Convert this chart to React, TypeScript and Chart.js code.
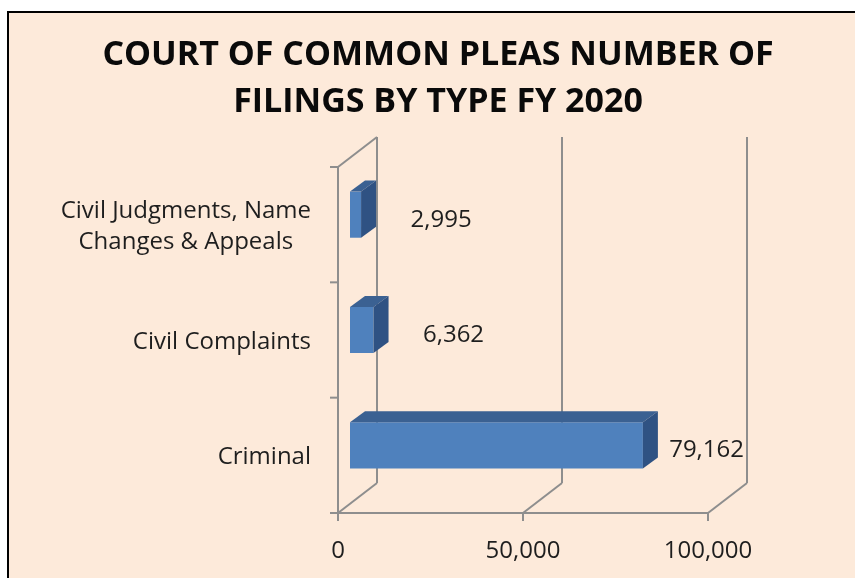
import React, { useEffect, useRef } from "react";
import { Chart, registerables } from "chart.js";

Chart.register(...registerables);

// ---- data ----
const TITLE_LINES = ["COURT OF COMMON PLEAS NUMBER OF", "FILINGS BY TYPE FY 2020"];
const CATEGORIES: (string | string[])[] = [
  ["Civil Judgments, Name", "Changes & Appeals"],
  "Civil Complaints",
  "Criminal",
];
const FILINGS = [2995, 6362, 79162];
const X_MIN = 0;
const X_MAX = 100000;
const X_STEP = 50000;

// ---- styles / geometry ----
const W = 855;
const H = 578;
const PEACH = "#FDEADA";
const GRID = "#8E8E8E";
const BAR_FRONT = "#4F81BD";
const BAR_TOP = "#3B6192";
const BAR_SIDE = "#2F5283";
const TEXT = "#1E1E1E";
const FONT = "'Open Sans', 'DejaVu Sans', sans-serif";
const FRONT = { dx: -12, dy: 10 }; // front plane relative to the bar plane
const DEPTH = { dx: 39, dy: -30 }; // back wall relative to the front plane
const BAR_DEPTH = { dx: 15, dy: -11 };

const fmt = (v: number) => v.toLocaleString("en-US");

const decor = {
  id: "decor3d",
  beforeDraw(chart: any) {
    const ctx = chart.ctx as CanvasRenderingContext2D;
    ctx.save();
    ctx.fillStyle = "#FFFFFF";
    ctx.fillRect(0, 0, W, H);
    ctx.fillStyle = "#000000";
    ctx.fillRect(7, 11, W - 7, 2);
    ctx.fillRect(7, 11, 2, H - 11);
    ctx.fillStyle = PEACH;
    ctx.fillRect(9, 13, W - 9, H - 13);

    // title
    ctx.fillStyle = "#0A0A0A";
    ctx.font = `bold 34px ${FONT}`;
    ctx.textAlign = "center";
    ctx.textBaseline = "alphabetic";
    ctx.fillText(TITLE_LINES[0], 438, 65);
    ctx.fillText(TITLE_LINES[1], 438, 112);
    ctx.restore();
  },
  beforeDatasetsDraw(chart: any) {
    const ctx = chart.ctx as CanvasRenderingContext2D;
    const xs = chart.scales.x;
    const ys = chart.scales.y;
    const frontTop = ys.top + FRONT.dy;
    const floorY = ys.bottom + FRONT.dy;
    const backTop = frontTop + DEPTH.dy;
    const backBottom = floorY + DEPTH.dy;
    let tickVals: number[] = (xs.ticks || []).map((t: any) => t.value);
    if (!tickVals.length) {
      tickVals = [];
      for (let v = X_MIN; v <= X_MAX; v += X_STEP) tickVals.push(v);
    }
    const fx0 = xs.getPixelForValue(X_MIN) + FRONT.dx;
    const fxMax = xs.getPixelForValue(X_MAX) + FRONT.dx;

    ctx.save();
    ctx.strokeStyle = GRID;
    ctx.lineWidth = 2;
    ctx.lineCap = "butt";
    const line = (x1: number, y1: number, x2: number, y2: number) => {
      ctx.beginPath();
      ctx.moveTo(x1, y1);
      ctx.lineTo(x2, y2);
      ctx.stroke();
    };

    // value gridlines: floor diagonal + back wall vertical + tick mark
    tickVals.forEach((v) => {
      const fx = xs.getPixelForValue(v) + FRONT.dx;
      const bx = fx + DEPTH.dx;
      line(fx, floorY, bx, backBottom);
      line(bx, backBottom, bx, backTop);
      line(fx, floorY, fx, floorY + 8);
    });
    // front floor edge
    line(fx0 - 8, floorY, fxMax, floorY);
    // left axis front edge + top diagonal
    line(fx0, frontTop, fx0, floorY);
    line(fx0, frontTop, fx0 + DEPTH.dx, backTop);
    // category tick marks
    const n = CATEGORIES.length;
    for (let i = 0; i <= n; i++) {
      const y = ys.getPixelForValue(i - 0.5) + FRONT.dy;
      line(fx0 - 8, y, fx0, y);
    }

    // category labels
    ctx.fillStyle = TEXT;
    ctx.font = `24px ${FONT}`;
    ctx.textBaseline = "alphabetic";
    ctx.textAlign = "center";
    const labelRight = fx0 - 27;
    const lh = 31;
    CATEGORIES.forEach((lab, i) => {
      const lines = Array.isArray(lab) ? lab : [lab];
      const maxW = Math.max(...lines.map((l) => ctx.measureText(l).width));
      const cx = labelRight - maxW / 2;
      const cy = ys.getPixelForValue(i) + FRONT.dy;
      const start = cy - ((lines.length - 1) * lh) / 2;
      lines.forEach((l, j) => ctx.fillText(l, cx, start + j * lh + 9));
    });

    // value tick labels
    tickVals.forEach((v) => {
      const fx = xs.getPixelForValue(v) + FRONT.dx;
      ctx.fillText(fmt(v), fx, floorY + 45);
    });
    ctx.restore();
  },
  afterDatasetsDraw(chart: any) {
    const ctx = chart.ctx as CanvasRenderingContext2D;
    const xs = chart.scales.x;
    const meta = chart.getDatasetMeta(0);
    const backRight = xs.getPixelForValue(X_MAX) + FRONT.dx + DEPTH.dx;
    ctx.save();
    meta.data.forEach((bar: any, i: number) => {
      const { x, y, base, height } = bar.getProps(["x", "y", "base", "height"], true);
      const top = y - height / 2;
      const bottom = y + height / 2;
      // top face
      ctx.fillStyle = BAR_TOP;
      ctx.beginPath();
      ctx.moveTo(base, top);
      ctx.lineTo(x, top);
      ctx.lineTo(x + BAR_DEPTH.dx, top + BAR_DEPTH.dy);
      ctx.lineTo(base + BAR_DEPTH.dx, top + BAR_DEPTH.dy);
      ctx.closePath();
      ctx.fill();
      // right face
      ctx.fillStyle = BAR_SIDE;
      ctx.beginPath();
      ctx.moveTo(x, top);
      ctx.lineTo(x + BAR_DEPTH.dx, top + BAR_DEPTH.dy);
      ctx.lineTo(x + BAR_DEPTH.dx, bottom + BAR_DEPTH.dy);
      ctx.lineTo(x, bottom);
      ctx.closePath();
      ctx.fill();

      // value label
      const txt = fmt(FILINGS[i]);
      ctx.font = `24px ${FONT}`;
      ctx.fillStyle = TEXT;
      ctx.textAlign = "center";
      ctx.textBaseline = "alphabetic";
      const w = ctx.measureText(txt).width;
      const cx = Math.min(x + 80, backRight - 3 - w / 2);
      ctx.fillText(txt, cx, y + 12);
    });
    ctx.restore();
  },
};

export default function App() {
  const ref = useRef<HTMLCanvasElement | null>(null);
  useEffect(() => {
    if (!ref.current) return;
    const chart = new Chart(ref.current, {
      type: "bar",
      data: {
        labels: CATEGORIES as any,
        datasets: [
          {
            label: "Filings",
            data: FILINGS,
            backgroundColor: BAR_FRONT,
            borderWidth: 0,
            barPercentage: 0.4,
            categoryPercentage: 1,
          },
        ],
      },
      options: {
        indexAxis: "y",
        responsive: false,
        animation: false,
        devicePixelRatio: 1,
        layout: { padding: { left: 350, right: W - 720, top: 157, bottom: H - 503 } },
        plugins: {
          legend: { display: false },
          title: { display: false },
          tooltip: { enabled: false },
        },
        scales: {
          x: { display: false, min: X_MIN, max: X_MAX, ticks: { stepSize: X_STEP } },
          y: { display: false },
        },
      },
      plugins: [decor],
    });
    return () => chart.destroy();
  }, []);
  return (
    <div style={{ position: "fixed", left: 0, top: 0, width: W, height: H }}>
      <canvas ref={ref} width={W} height={H} style={{ display: "block", width: W, height: H }} />
    </div>
  );
}
